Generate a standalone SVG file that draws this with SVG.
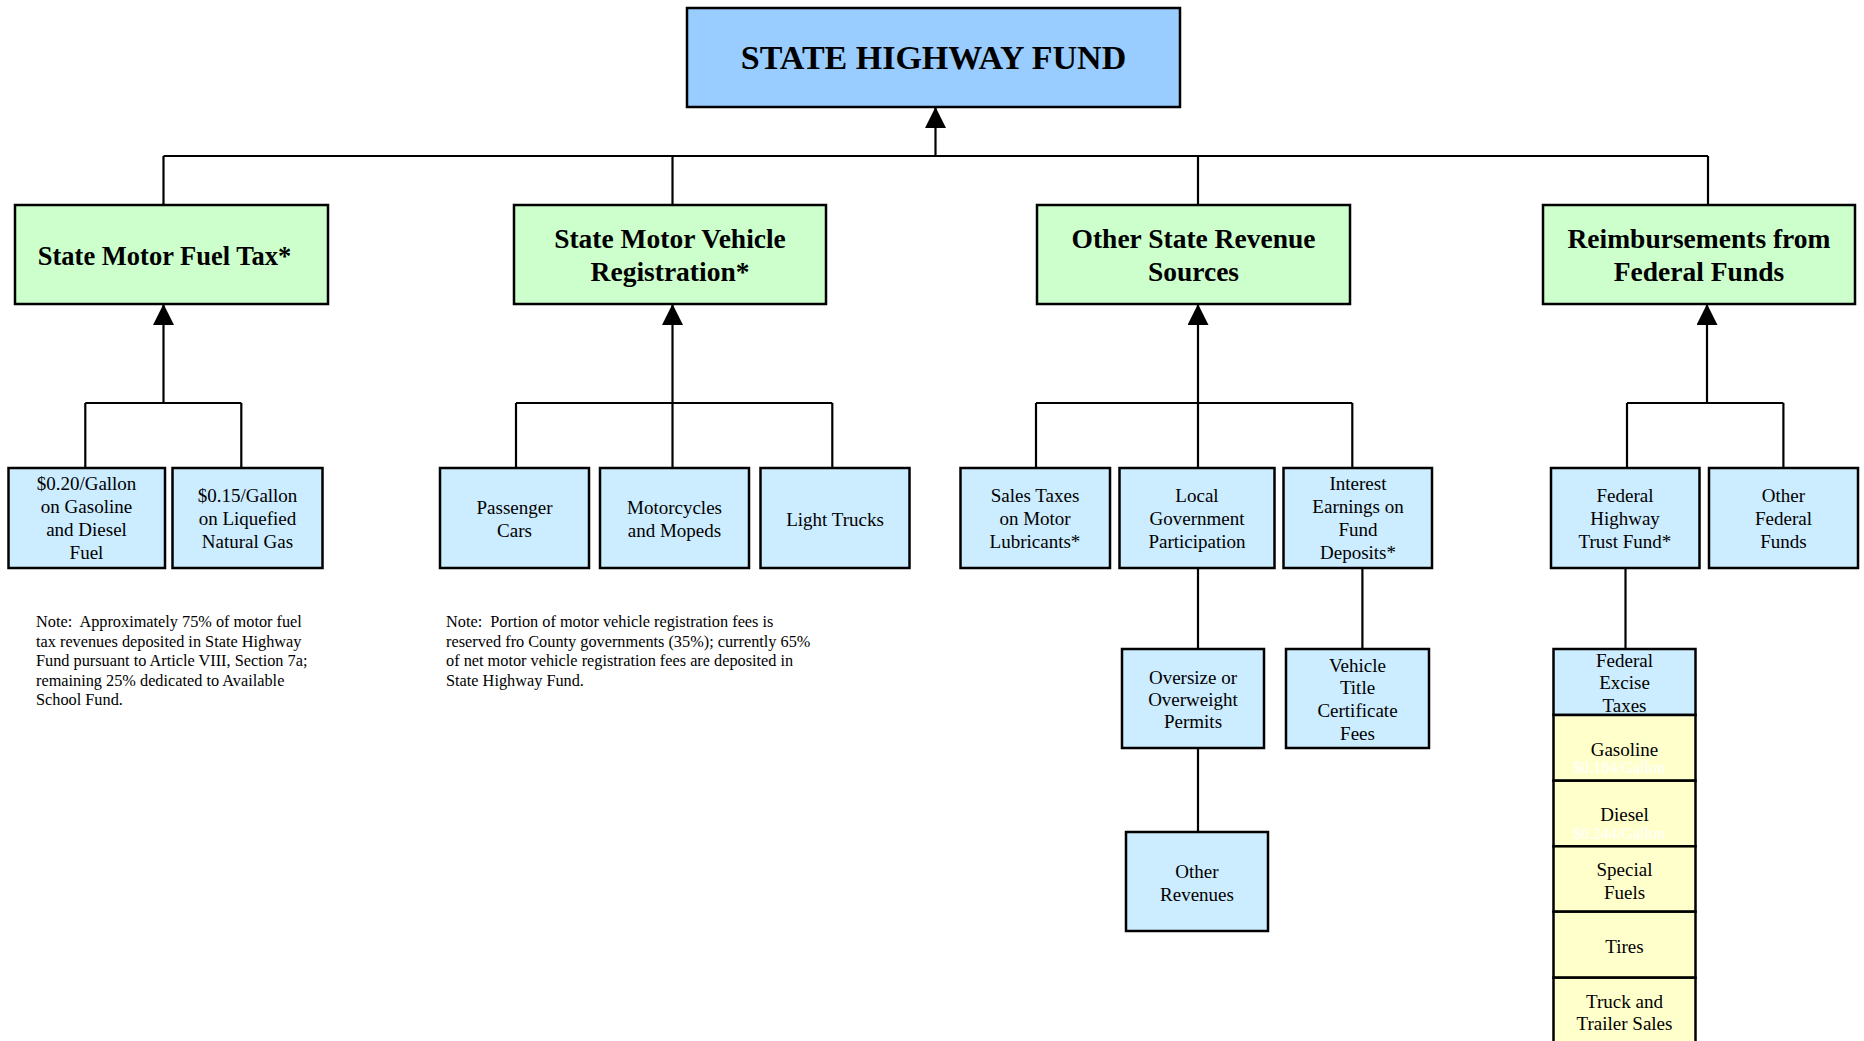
<svg xmlns="http://www.w3.org/2000/svg" width="1864" height="1041" viewBox="0 0 1864 1041">
<style>
  .box { stroke: #000; stroke-width: 2.5; }
  .top { fill: #99CCFF; }
  .green { fill: #CCFFCC; }
  .blue { fill: #CCECFF; }
  .yellow { fill: #FFFFCC; }
  text { font-family: "Liberation Serif", "Times New Roman", serif; fill: #000; text-anchor: middle; }
  .h1 { font-size: 34px; font-weight: bold; }
  .h2 { font-size: 27.5px; font-weight: bold; }
  .t { font-size: 19px; }
  .w { font-size: 16px; fill: #FFFFFF; }
  .note { font-size: 16.3px; text-anchor: start; white-space: pre; }
  .con line { stroke: #000; stroke-width: 2.2; fill: none; }
</style>
<defs>
  <marker id="arr" viewBox="0 0 21 21" refX="21" refY="10.5" markerWidth="21" markerHeight="21" markerUnits="userSpaceOnUse" orient="auto">
    <path d="M0,0 L21,10.5 L0,21 z" fill="#000"/>
  </marker>
</defs>
<rect width="1864" height="1041" fill="#FFFFFF"/>

<g id="connectors" class="con">
  <line x1="163.5" y1="156" x2="1708" y2="156"/>
  <line x1="935.5" y1="156" x2="935.5" y2="107" marker-end="url(#arr)"/>
  <line x1="163.5" y1="156" x2="163.5" y2="205"/>
  <line x1="672.5" y1="156" x2="672.5" y2="205"/>
  <line x1="1198" y1="156" x2="1198" y2="205"/>
  <line x1="1708" y1="156" x2="1708" y2="205"/>

  <line x1="85.3" y1="403" x2="241.3" y2="403"/>
  <line x1="85.3" y1="403" x2="85.3" y2="468"/>
  <line x1="241.3" y1="403" x2="241.3" y2="468"/>
  <line x1="163.5" y1="403" x2="163.5" y2="304" marker-end="url(#arr)"/>

  <line x1="516" y1="403" x2="832.3" y2="403"/>
  <line x1="516" y1="403" x2="516" y2="468"/>
  <line x1="832.3" y1="403" x2="832.3" y2="468"/>
  <line x1="672.5" y1="468" x2="672.5" y2="304" marker-end="url(#arr)"/>

  <line x1="1036" y1="403" x2="1352.3" y2="403"/>
  <line x1="1036" y1="403" x2="1036" y2="468"/>
  <line x1="1352.3" y1="403" x2="1352.3" y2="468"/>
  <line x1="1198" y1="468" x2="1198" y2="304" marker-end="url(#arr)"/>

  <line x1="1627" y1="403" x2="1783.4" y2="403"/>
  <line x1="1627" y1="403" x2="1627" y2="468"/>
  <line x1="1783.4" y1="403" x2="1783.4" y2="468"/>
  <line x1="1707" y1="403" x2="1707" y2="304" marker-end="url(#arr)"/>

  <line x1="1198" y1="568" x2="1198" y2="649"/>
  <line x1="1198" y1="748" x2="1198" y2="832"/>
  <line x1="1362.4" y1="568" x2="1362.4" y2="649"/>
  <line x1="1625.5" y1="568" x2="1625.5" y2="649"/>
</g>

<g id="state-highway-fund">
  <rect class="box top" x="687" y="8" width="493" height="99"/>
  <text class="h1" x="933.5" y="68.5">STATE HIGHWAY FUND</text>
</g>

<g id="state-motor-fuel-tax">
  <rect class="box green" x="15" y="205" width="313" height="99"/>
  <text class="h2" x="164.5" y="265" style="font-size:26.5px">State Motor Fuel Tax*</text>
</g>
<g id="state-motor-vehicle-registration">
  <rect class="box green" x="514" y="205" width="312" height="99"/>
  <text class="h2" x="670" y="248">State Motor Vehicle</text>
  <text class="h2" x="670" y="281">Registration*</text>
</g>
<g id="other-state-revenue-sources">
  <rect class="box green" x="1037" y="205" width="313" height="99"/>
  <text class="h2" x="1193.5" y="248">Other State Revenue</text>
  <text class="h2" x="1193.5" y="281">Sources</text>
</g>
<g id="reimbursements-federal-funds">
  <rect class="box green" x="1543" y="205" width="312" height="99"/>
  <text class="h2" x="1699" y="248">Reimbursements from</text>
  <text class="h2" x="1699" y="281">Federal Funds</text>
</g>

<g id="gasoline-diesel-fuel">
  <rect class="box blue" x="8.5" y="468" width="156.5" height="100"/>
  <text class="t" x="86.5" y="490">$0.20/Gallon</text>
  <text class="t" x="86.5" y="513">on Gasoline</text>
  <text class="t" x="86.5" y="536">and Diesel</text>
  <text class="t" x="86.5" y="559">Fuel</text>
</g>
<g id="liquefied-natural-gas">
  <rect class="box blue" x="172.5" y="468" width="150" height="100"/>
  <text class="t" x="247.5" y="502">$0.15/Gallon</text>
  <text class="t" x="247.5" y="525">on Liquefied</text>
  <text class="t" x="247.5" y="548">Natural Gas</text>
</g>
<g id="passenger-cars">
  <rect class="box blue" x="440" y="468" width="149" height="100"/>
  <text class="t" x="514.5" y="514">Passenger</text>
  <text class="t" x="514.5" y="537">Cars</text>
</g>
<g id="motorcycles-mopeds">
  <rect class="box blue" x="600" y="468" width="149" height="100"/>
  <text class="t" x="674.5" y="514">Motorcycles</text>
  <text class="t" x="674.5" y="537">and Mopeds</text>
</g>
<g id="light-trucks">
  <rect class="box blue" x="760.5" y="468" width="149" height="100"/>
  <text class="t" x="835" y="525.5">Light Trucks</text>
</g>
<g id="sales-taxes-lubricants">
  <rect class="box blue" x="960.5" y="468" width="149.5" height="100"/>
  <text class="t" x="1035" y="502">Sales Taxes</text>
  <text class="t" x="1035" y="525">on Motor</text>
  <text class="t" x="1035" y="548">Lubricants*</text>
</g>
<g id="local-government-participation">
  <rect class="box blue" x="1119.5" y="468" width="155" height="100"/>
  <text class="t" x="1197" y="502">Local</text>
  <text class="t" x="1197" y="525">Government</text>
  <text class="t" x="1197" y="548">Participation</text>
</g>
<g id="interest-earnings">
  <rect class="box blue" x="1283.5" y="468" width="148.5" height="100"/>
  <text class="t" x="1358" y="490">Interest</text>
  <text class="t" x="1358" y="513">Earnings on</text>
  <text class="t" x="1358" y="536">Fund</text>
  <text class="t" x="1358" y="559">Deposits*</text>
</g>
<g id="federal-highway-trust-fund">
  <rect class="box blue" x="1551" y="468" width="148.5" height="100"/>
  <text class="t" x="1625" y="502">Federal</text>
  <text class="t" x="1625" y="525">Highway</text>
  <text class="t" x="1625" y="548">Trust Fund*</text>
</g>
<g id="other-federal-funds">
  <rect class="box blue" x="1709" y="468" width="149" height="100"/>
  <text class="t" x="1783.5" y="502">Other</text>
  <text class="t" x="1783.5" y="525">Federal</text>
  <text class="t" x="1783.5" y="548">Funds</text>
</g>

<g id="oversize-overweight-permits">
  <rect class="box blue" x="1122" y="649" width="142" height="99"/>
  <text class="t" x="1193" y="684">Oversize or</text>
  <text class="t" x="1193" y="706">Overweight</text>
  <text class="t" x="1193" y="728">Permits</text>
</g>
<g id="vehicle-title-certificate-fees">
  <rect class="box blue" x="1286" y="649" width="143" height="99"/>
  <text class="t" x="1357.5" y="671.5">Vehicle</text>
  <text class="t" x="1357.5" y="694">Title</text>
  <text class="t" x="1357.5" y="717">Certificate</text>
  <text class="t" x="1357.5" y="740">Fees</text>
</g>
<g id="other-revenues">
  <rect class="box blue" x="1126" y="832" width="142" height="99"/>
  <text class="t" x="1197" y="878">Other</text>
  <text class="t" x="1197" y="901">Revenues</text>
</g>

<g id="federal-excise-taxes">
  <rect class="box blue" x="1553.5" y="649" width="142" height="66"/>
  <text class="t" x="1624.5" y="666.5">Federal</text>
  <text class="t" x="1624.5" y="689">Excise</text>
  <text class="t" x="1624.5" y="712">Taxes</text>
</g>
<g id="gasoline">
  <rect class="box yellow" x="1553.5" y="715" width="142" height="65.7"/>
  <text class="t" x="1624.5" y="755.5">Gasoline</text>
  <text class="w" x="1619" y="773">$0.184/Gallon</text>
</g>
<g id="diesel">
  <rect class="box yellow" x="1553.5" y="780.7" width="142" height="65.6"/>
  <text class="t" x="1624.5" y="820.5">Diesel</text>
  <text class="w" x="1619" y="838.5">$0.244/Gallon</text>
</g>
<g id="special-fuels">
  <rect class="box yellow" x="1553.5" y="846.3" width="142" height="65.4"/>
  <text class="t" x="1624.5" y="876">Special</text>
  <text class="t" x="1624.5" y="898.5">Fuels</text>
</g>
<g id="tires">
  <rect class="box yellow" x="1553.5" y="911.7" width="142" height="66"/>
  <text class="t" x="1624.5" y="952.5">Tires</text>
</g>
<g id="truck-trailer-sales">
  <rect class="box yellow" x="1553.5" y="977.7" width="142" height="66"/>
  <text class="t" x="1624.5" y="1007.5">Truck and</text>
  <text class="t" x="1624.5" y="1029.5">Trailer Sales</text>
</g>

<g id="note-fuel-tax">
  <text class="note" x="36" y="627" xml:space="preserve">Note:  Approximately 75% of motor fuel</text>
  <text class="note" x="36" y="646.5">tax revenues deposited in State Highway</text>
  <text class="note" x="36" y="666">Fund pursuant to Article VIII, Section 7a;</text>
  <text class="note" x="36" y="685.5">remaining 25% dedicated to Available</text>
  <text class="note" x="36" y="705">School Fund.</text>
</g>
<g id="note-registration">
  <text class="note" x="446" y="627" xml:space="preserve">Note:  Portion of motor vehicle registration fees is</text>
  <text class="note" x="446" y="646.5">reserved fro County governments (35%); currently 65%</text>
  <text class="note" x="446" y="666">of net motor vehicle registration fees are deposited in</text>
  <text class="note" x="446" y="685.5">State Highway Fund.</text>
</g>
</svg>
